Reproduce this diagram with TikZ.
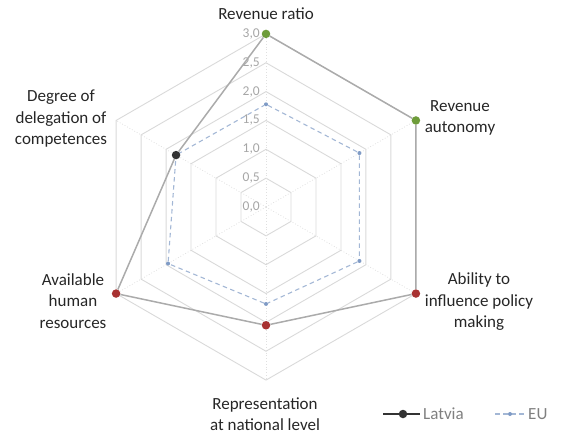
\documentclass[tikz,border=0pt]{standalone}
\usepackage{fontspec}
\setmainfont{Carlito}
\usepackage{tikz}
\usepackage{xcolor}
\usetikzlibrary{positioning}
\definecolor{ringgrey}{HTML}{D9D9D9}
\definecolor{spokegrey}{HTML}{E0E0E0}
\definecolor{tickgrey}{HTML}{A6A6A6}
\definecolor{labelblack}{HTML}{262626}
\definecolor{keygrey}{HTML}{7F7F7F}
\definecolor{lvline}{HTML}{ABABAB}
\definecolor{lvgreen}{HTML}{6E9C3A}
\definecolor{lvred}{HTML}{A83232}
\definecolor{lvblack}{HTML}{333333}
\definecolor{euline}{HTML}{A3B7D5}
\definecolor{eublue}{HTML}{7F9BC6}
\tikzset{ring/.style={draw=ringgrey, line width=0.9pt}}
\tikzset{spoke/.style={draw=spokegrey, line width=0.8pt, dotted}}
\tikzset{lvg/.style={inner sep=0pt, minimum size=8.5pt, circle, fill=lvgreen}}
\tikzset{lvr/.style={inner sep=0pt, minimum size=8.5pt, circle, fill=lvred}}
\tikzset{lvb/.style={inner sep=0pt, minimum size=8.5pt, circle, fill=lvblack}}
\tikzset{eup/.style={inner sep=0pt, minimum size=4pt, circle, fill=eublue}}
\tikzset{lvpath/.style={draw=lvline, line width=1.5pt}}
\tikzset{eupath/.style={draw=euline, line width=1.1pt, dash pattern=on 4.5pt off 3.5pt}}
\tikzset{axlabel/.style={align=center, inner sep=0pt, text=labelblack, font=\fontsize{17}{21.5}\selectfont}}
\tikzset{ticklabel/.style={anchor=east, xshift=-6pt, inner sep=0pt, text=tickgrey, font=\fontsize{13.5}{15}\selectfont}}
\tikzset{keytext/.style={inner sep=0pt, anchor=west, text=keygrey, font=\fontsize{17}{21.5}\selectfont}}

\begin{document}
\begin{tikzpicture}[x=1pt, y=1pt]
    \useasboundingbox (-266, -230) rectangle (295, 207);

    \begin{scope}[x=57.7pt, y=57.7pt]
        % grid
        \foreach \r in {0.5,1.0,1.5,2.0,2.5,3.0}
            \draw[ring] (90:\r) -- (30:\r) -- (-30:\r) -- (-90:\r) -- (210:\r) -- (150:\r) -- cycle;
        \foreach \a in {90,30,-30,-90,210,150}
            \draw[spoke] (0,0) -- (\a:3);

        \node[ticklabel] (t00) at (90:0) {0,0};
        \node[ticklabel] (t05) at (90:0.5) {0,5};
        \node[ticklabel] (t10) at (90:1.0) {1,0};
        \node[ticklabel] (t15) at (90:1.5) {1,5};
        \node[ticklabel] (t20) at (90:2.0) {2,0};
        \node[ticklabel] (t25) at (90:2.5) {2,5};
        \node[ticklabel] (t30) at (90:3.0) {3,0};

        % EU
        \node[eup] (eu1) at (90:1.78) {};
        \node[eup] (eu2) at (30:1.87) {};
        \node[eup] (eu3) at (-30:1.87) {};
        \node[eup] (eu4) at (-90:1.68) {};
        \node[eup] (eu5) at (210:1.96) {};
        \node[eup] (eu6) at (150:1.8) {};
        \draw[eupath] (eu1) -- (eu2) -- (eu3) -- (eu4) -- (eu5) -- (eu6) -- (eu1);

        % Latvia
        \node[lvg] (lv1) at (90:3) {};
        \node[lvg] (lv2) at (30:3) {};
        \node[lvr] (lv3) at (-30:3) {};
        \node[lvr] (lv4) at (-90:2.05) {};
        \node[lvr] (lv5) at (210:3) {};
        \node[lvb] (lv6) at (150:1.8) {};
        \draw[lvpath] (lv1) -- (lv2) -- (lv3) -- (lv4) -- (lv5) -- (lv6) -- (lv1);
    \end{scope}

    \node[axlabel] (ratio) at (0, 193) {Revenue ratio};
    \node[axlabel] (autonomy) at (194, 89) {Revenue\\autonomy};
    \node[axlabel] (influence) at (213, -95) {Ability to\\influence policy\\making};
    \node[axlabel] (representation) at (-1, -207) {Representation\\at national level};
    \node[axlabel] (human) at (-193, -94) {Available\\human\\resources};
    \node[axlabel] (delegation) at (-205, 88) {Degree of\\delegation of\\competences};

    % legend
    \coordinate (lvka) at (117, -207);
    \coordinate (lvkb) at (154, -207);
    \draw[draw=lvblack, line width=1.3pt] (lvka) -- (lvkb);
    \node[lvb] (lvkey) at (137, -207) {};
    \node[keytext, right=3pt of lvkb] (lvtext) {Latvia};

    \coordinate (euka) at (229, -207);
    \coordinate (eukb) at (259, -207);
    \draw[eupath] (euka) -- (eukb);
    \node[eup] (eukey) at (244, -207) {};
    \node[keytext, right=3pt of eukb] (eutext) {EU};
\end{tikzpicture}
\end{document}
